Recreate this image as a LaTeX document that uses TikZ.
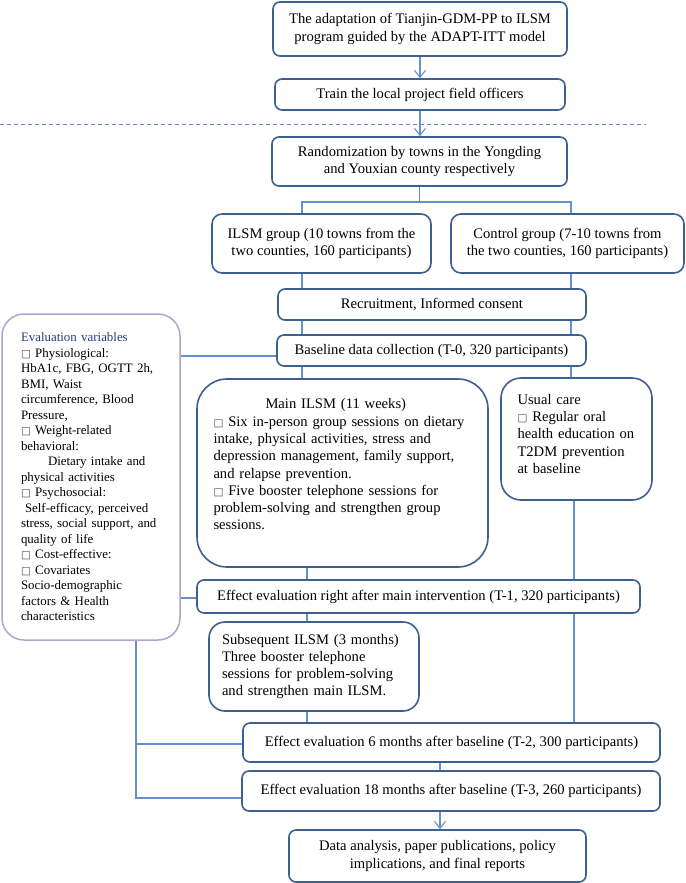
\documentclass[tikz,border=0pt]{standalone}
\usepackage{fontspec}
\setmainfont{Liberation Serif}
\newfontfamily\boxfont{DejaVu Sans}
\usetikzlibrary{arrows.meta}
\definecolor{boxBlue}{RGB}{62,96,145}
\definecolor{lineBlue}{RGB}{100,145,205}
\definecolor{evalPurple}{RGB}{180,162,205}
\definecolor{titleBlue}{RGB}{35,60,125}
\newcommand{\sqbox}{{\boxfont\fontsize{10.5}{10.5}\selectfont\textcolor{black!70}{□}}}

\begin{document}
\begin{tikzpicture}[
  x=1pt, y=-1pt,
  font=\fontsize{14.6}{17.3}\selectfont,
  box/.style={draw=boxBlue, line width=1.6pt, rounded corners=7pt, fill=white,
              align=center, inner sep=0pt},
  bigbox/.style={box, align=left, rounded corners=#1},
  evalbox/.style={draw=evalPurple, line width=1.5pt, rounded corners=22pt, fill=white,
              align=left, inner sep=0pt, font=\fontsize{12.9}{15.5}\selectfont},
  link/.style={draw=lineBlue, line width=1.1pt},
  arr/.style={link, -{Straight Barb[length=7pt,width=11pt]}},
  cut/.style={draw=lineBlue, line width=1pt, dash pattern=on 4pt off 3pt}
]
\useasboundingbox (0,0) rectangle (685,883);

% preparation
\node[box, minimum width=294, minimum height=54] (adapt) at (420,29)
  {The adaptation of Tianjin-GDM-PP to ILSM\\program guided by the ADAPT-ITT model};
\node[box, minimum width=290, minimum height=31] (train) at (420,94.5)
  {Train the local project field officers};

% trial
\node[box, minimum width=295, minimum height=49] (random) at (419.5,161.5)
  {Randomization by towns in the Yongding\\and Youxian county respectively};
\node[box, rounded corners=10pt, minimum width=219, minimum height=59] (ilsm) at (321.5,243.5)
  {ILSM group (10 towns from the\\two counties, 160 participants)};
\node[box, rounded corners=10pt, minimum width=233, minimum height=59] (control) at (567.5,243.5)
  {Control group (7-10 towns from\\the two counties, 160 participants)};
\node[box, minimum width=308, minimum height=31] (recruit) at (432,304.5)
  {Recruitment, Informed consent};
\node[box, minimum width=309, minimum height=31] (base) at (431.5,350.5)
  {Baseline data collection (T-0, 320 participants)};

\node[evalbox, minimum width=178, minimum height=326, text width=140] (evalvar) at (91,477)
  {\textcolor{titleBlue}{Evaluation variables}\\
   \sqbox\ Physiological:\\
   HbA1c, FBG, OGTT 2h,\\
   BMI, Waist\\
   circumference, Blood\\
   Pressure,\\
   \sqbox\ Weight-related\\
   behavioral:\\
   \hspace*{27pt}Dietary intake and\\
   physical activities\\
   \sqbox\ Psychosocial:\\
   \hspace*{4pt}Self-efficacy, perceived\\
   stress, social support, and\\
   quality of life\\
   \sqbox\ Cost-effective:\\
   \sqbox\ Covariates\\
   Socio-demographic\\
   factors \& Health\\
   characteristics};

\node[bigbox=30pt, minimum width=291, minimum height=188, text width=258] (mainilsm) at (342.5,473)
  {\hspace*{52pt}Main ILSM (11 weeks)\\
   \mbox{\sqbox\ Six in-person group sessions on dietary}\\
   intake, physical activities, stress and\\
   depression management, family support,\\
   and relapse prevention.\\
   \sqbox\ Five booster telephone sessions for\\
   problem-solving and strengthen group\\
   sessions.\\ \mbox{}};
\node[bigbox=20pt, minimum width=151, minimum height=122, text width=118] (usual) at (576.5,439)
  {Usual care\\
   \sqbox\ Regular oral\\
   health education on\\
   T2DM prevention\\
   at baseline\\[-7pt] \mbox{}};

% follow-up
\node[box, minimum width=443, minimum height=33] (tone) at (418.5,596.5)
  {Effect evaluation right after main intervention (T-1, 320 participants)};
\node[bigbox=16pt, minimum width=210, minimum height=89, text width=184] (subseq) at (314,666.5)
  {\mbox{Subsequent ILSM (3 months)}\\
   Three booster telephone\\
   sessions for problem-solving\\
   and strengthen main ILSM.};
\node[box, minimum width=417, minimum height=39] (ttwo) at (451.5,742.5)
  {Effect evaluation 6 months after baseline (T-2, 300 participants)};
\node[box, minimum width=418, minimum height=40] (tthree) at (451,791)
  {Effect evaluation 18 months after baseline (T-3, 260 participants)};
\node[box, minimum width=297, minimum height=52] (report) at (437.5,856)
  {Data analysis, paper publications, policy\\implications, and final reports};

% helper coordinates
\coordinate (cutL) at (0,124);
\coordinate (cutR) at (646,124);
\coordinate (split) at (419.5,202);
\coordinate (colL) at (302,0);
\coordinate (colR) at (571,0);
\coordinate (colLb) at (307,0);
\coordinate (colRb) at (574,0);
\coordinate (midcol) at (440,0);
\coordinate (brk) at (136,0);
\coordinate (rowBase) at (0,356);
\coordinate (rowTone) at (0,598);
\coordinate (rowTtwo) at (0,744);
\coordinate (rowTthree) at (0,798);

% connectors
\draw[cut] (cutL) -- (cutR);
\draw[arr] (adapt.south) -- (train.north);
\draw[arr] (train.south) -- (train.south |- random.north);
\draw[link] (random.south) -- (split);
\draw[link] (colL |- ilsm.north) |- (split) -| (colR |- control.north);
\draw[link] (colL |- ilsm.south) -- (colL |- recruit.north);
\draw[link] (colR |- control.south) -- (colR |- recruit.north);
\draw[link] (colL |- recruit.south) -- (colL |- base.north);
\draw[link] (colR |- recruit.south) -- (colR |- base.north);
\draw[link] (colL |- base.south) -- (colL |- mainilsm.north);
\draw[link] (colR |- base.south) -- (colR |- usual.north);
\draw[link] (evalvar.east |- rowBase) -- (base.west |- rowBase);
\draw[link] (evalvar.east |- rowTone) -- (tone.west |- rowTone);
\draw[link] (colLb |- mainilsm.south) -- (colLb |- tone.north);
\draw[link] (colRb |- usual.south) -- (colRb |- tone.north);
\draw[link] (colLb |- tone.south) -- (colLb |- subseq.north);
\draw[link] (colRb |- tone.south) -- (colRb |- ttwo.north);
\draw[link] (colLb |- subseq.south) -- (colLb |- ttwo.north);
\draw[link] (midcol |- ttwo.south) -- (midcol |- tthree.north);
\draw[arr] (midcol |- tthree.south) -- (midcol |- report.north);
\draw[link] (brk |- evalvar.south) |- (tthree.west |- rowTthree);
\draw[link] (brk |- rowTtwo) -- (ttwo.west |- rowTtwo);

\end{tikzpicture}
\end{document}
